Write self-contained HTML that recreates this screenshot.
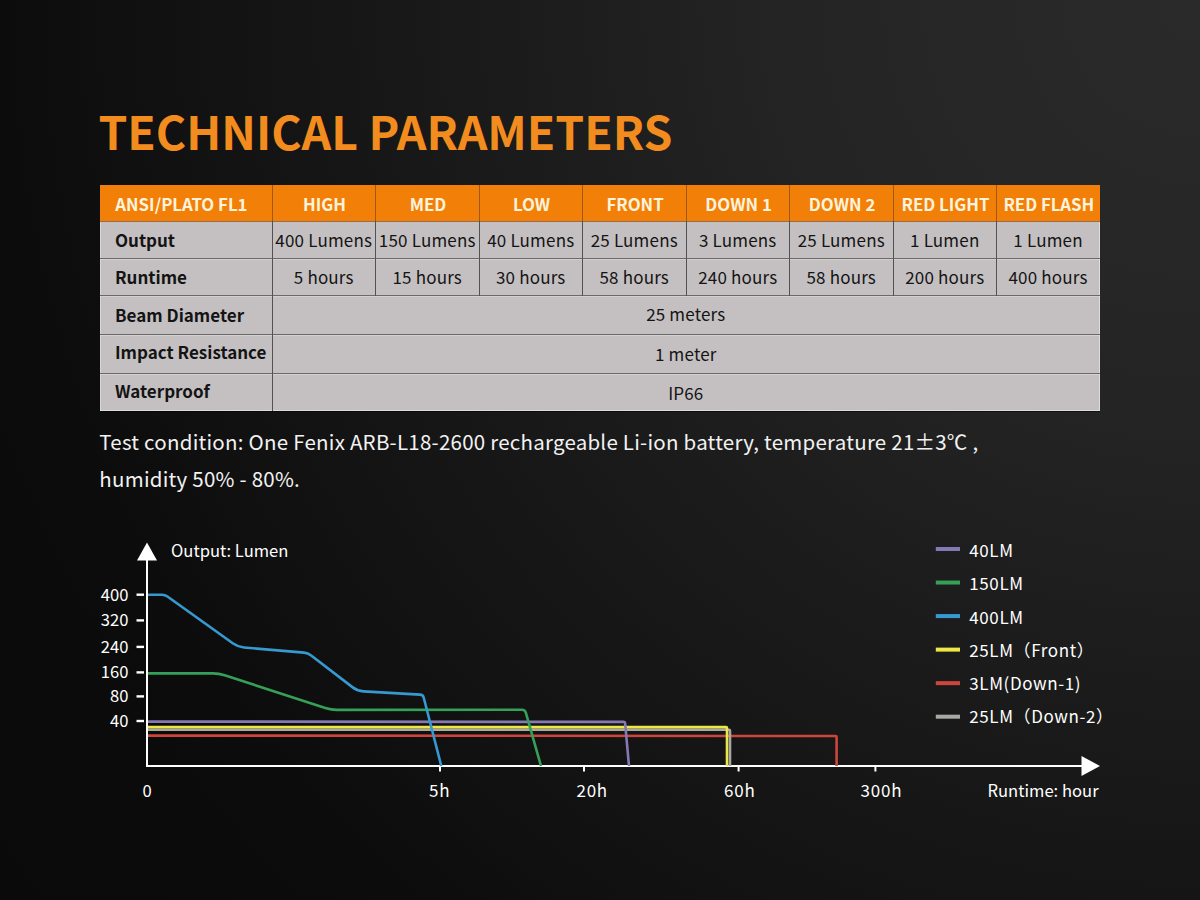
<!DOCTYPE html>
<html><head><meta charset="utf-8"><title>Technical Parameters</title>
<style>
*{margin:0;padding:0;box-sizing:border-box}
html,body{width:1200px;height:900px;overflow:hidden}
body{position:relative;font-family:"Noto Sans CJK SC","Liberation Sans",sans-serif;color:#fff;
background:radial-gradient(circle 1500px at 100% 0%,rgb(42,42,42) 0px,rgb(38,38,38) 300px,rgb(35,35,35) 450px,rgb(30,30,30) 600px,rgb(21,21,21) 900px,rgb(17,17,17) 1050px,rgb(13,13,13) 1165px,rgb(11,11,11) 1300px,rgb(10,10,10) 1500px);}
.t{position:absolute;white-space:nowrap;line-height:1}
h1{position:absolute;left:98.4px;top:107.3px;font-size:46.3px;font-weight:700;color:#f28c1e;line-height:1;white-space:nowrap}
#tbl{position:absolute;left:100px;top:185px;width:999.6px;height:226px;background:#c4c0c1;box-shadow:inset 1px 0 0 rgba(255,255,255,0.35),inset -1px -1px 0 rgba(255,255,255,0.45),0 1px 0 rgba(0,0,0,0.5)}
#tbl .hd{position:absolute;left:0;top:0;width:999.6px;height:36px;background:#f28008}
#tbl .c{position:absolute;text-align:center;white-space:nowrap;color:#141414;font-size:17px;line-height:1;letter-spacing:0.18px}
#tbl .h{color:#fff3dc;font-weight:700;font-size:16.8px;letter-spacing:0}
#tbl .l{font-weight:700;text-align:left;letter-spacing:0}
.vl{position:absolute;width:1px;background:#525252}
.vlh{position:absolute;width:1px;background:#a05814}
.htop{display:none}
.hb{background:#9a6a4a!important}
.hl{position:absolute;height:1px;left:0;width:999.6px;background:#6a6a6a}
.hlw{position:absolute;height:1px;left:0;width:999.6px;background:rgba(255,255,255,0.25)}
.note{position:absolute;left:99.3px;font-size:20.5px;letter-spacing:0.24px;color:#f2f2f2;line-height:1;white-space:nowrap}
svg{position:absolute;left:0;top:0}
svg text{font-family:"Noto Sans CJK SC","Liberation Sans",sans-serif;fill:#fff}
</style></head><body>
<h1>TECHNICAL PARAMETERS</h1>

<div id="tbl">
<div class="hd"></div>
<div class="c h l" style="left:15.3px;top:1.0px;width:156.7px;height:36.0px;line-height:36.0px">ANSI/PLATO FL1</div>
<div class="c h" style="left:172.8px;top:1.0px;width:103.5px;height:36.0px;line-height:36.0px">HIGH</div>
<div class="c h" style="left:276.3px;top:1.0px;width:103.5px;height:36.0px;line-height:36.0px">MED</div>
<div class="c h" style="left:379.8px;top:1.0px;width:103.5px;height:36.0px;line-height:36.0px">LOW</div>
<div class="c h" style="left:483.3px;top:1.0px;width:103.5px;height:36.0px;line-height:36.0px">FRONT</div>
<div class="c h" style="left:586.8px;top:1.0px;width:103.5px;height:36.0px;line-height:36.0px">DOWN 1</div>
<div class="c h" style="left:690.3px;top:1.0px;width:103.5px;height:36.0px;line-height:36.0px">DOWN 2</div>
<div class="c h" style="left:793.8px;top:1.0px;width:103.5px;height:36.0px;line-height:36.0px">RED LIGHT</div>
<div class="c h" style="left:897.3px;top:1.0px;width:103.1px;height:36.0px;line-height:36.0px">RED FLASH</div>
<div class="c l" style="left:15.0px;top:36.3px;width:157.0px;height:37.4px;line-height:37.4px">Output</div>
<div class="c v" style="left:172.0px;top:36.0px;width:103.5px;height:37.4px;line-height:37.4px">400 Lumens</div>
<div class="c v" style="left:275.5px;top:36.0px;width:103.5px;height:37.4px;line-height:37.4px">150 Lumens</div>
<div class="c v" style="left:379.0px;top:36.0px;width:103.5px;height:37.4px;line-height:37.4px">40 Lumens</div>
<div class="c v" style="left:482.5px;top:36.0px;width:103.5px;height:37.4px;line-height:37.4px">25 Lumens</div>
<div class="c v" style="left:586.0px;top:36.0px;width:103.5px;height:37.4px;line-height:37.4px">3 Lumens</div>
<div class="c v" style="left:689.5px;top:36.0px;width:103.5px;height:37.4px;line-height:37.4px">25 Lumens</div>
<div class="c v" style="left:793.0px;top:36.0px;width:103.5px;height:37.4px;line-height:37.4px">1 Lumen</div>
<div class="c v" style="left:896.5px;top:36.0px;width:103.1px;height:37.4px;line-height:37.4px">1 Lumen</div>
<div class="c l" style="left:15.0px;top:73.0px;width:157.0px;height:37.5px;line-height:37.5px">Runtime</div>
<div class="c v" style="left:172.0px;top:73.4px;width:103.5px;height:37.5px;line-height:37.5px">5 hours</div>
<div class="c v" style="left:275.5px;top:73.4px;width:103.5px;height:37.5px;line-height:37.5px">15 hours</div>
<div class="c v" style="left:379.0px;top:73.4px;width:103.5px;height:37.5px;line-height:37.5px">30 hours</div>
<div class="c v" style="left:482.5px;top:73.4px;width:103.5px;height:37.5px;line-height:37.5px">58 hours</div>
<div class="c v" style="left:586.0px;top:73.4px;width:103.5px;height:37.5px;line-height:37.5px">240 hours</div>
<div class="c v" style="left:689.5px;top:73.4px;width:103.5px;height:37.5px;line-height:37.5px">58 hours</div>
<div class="c v" style="left:793.0px;top:73.4px;width:103.5px;height:37.5px;line-height:37.5px">200 hours</div>
<div class="c v" style="left:896.5px;top:73.4px;width:103.1px;height:37.5px;line-height:37.5px">400 hours</div>
<div class="c l" style="left:15.0px;top:110.5px;width:157.0px;height:38.6px;line-height:38.6px">Beam Diameter</div>
<div class="c v" style="left:172.0px;top:109.9px;width:827.6px;height:38.6px;line-height:38.6px">25 meters</div>
<div class="c l" style="left:15.0px;top:148.2px;width:157.0px;height:38.5px;line-height:38.5px">Impact Resistance</div>
<div class="c v" style="left:172.0px;top:150.1px;width:827.6px;height:38.5px;line-height:38.5px">1 meter</div>
<div class="c l" style="left:15.0px;top:187.3px;width:157.0px;height:38.0px;line-height:38.0px">Waterproof</div>
<div class="c v" style="left:172.0px;top:188.6px;width:827.6px;height:38.0px;line-height:38.0px">IP66</div>
<div class="hl" style="top:72.9px"></div>
<div class="hlw" style="top:73.9px"></div>
<div class="hl" style="top:110.4px"></div>
<div class="hlw" style="top:111.4px"></div>
<div class="hl" style="top:149.0px"></div>
<div class="hlw" style="top:150.0px"></div>
<div class="hl" style="top:187.5px"></div>
<div class="hlw" style="top:188.5px"></div>
<div class="hl hb" style="top:35.5px"></div>
<div class="vl" style="left:171.5px;top:36px;height:190.0px"></div>
<div class="vlh" style="left:171.5px;top:0;height:36px"></div>
<div class="vl" style="left:275.0px;top:36px;height:74.9px"></div>
<div class="vlh" style="left:275.0px;top:0;height:36px"></div>
<div class="vl" style="left:378.5px;top:36px;height:74.9px"></div>
<div class="vlh" style="left:378.5px;top:0;height:36px"></div>
<div class="vl" style="left:482.0px;top:36px;height:74.9px"></div>
<div class="vlh" style="left:482.0px;top:0;height:36px"></div>
<div class="vl" style="left:585.5px;top:36px;height:74.9px"></div>
<div class="vlh" style="left:585.5px;top:0;height:36px"></div>
<div class="vl" style="left:689.0px;top:36px;height:74.9px"></div>
<div class="vlh" style="left:689.0px;top:0;height:36px"></div>
<div class="vl" style="left:792.5px;top:36px;height:74.9px"></div>
<div class="vlh" style="left:792.5px;top:0;height:36px"></div>
<div class="vl" style="left:896.0px;top:36px;height:74.9px"></div>
<div class="vlh" style="left:896.0px;top:0;height:36px"></div>
<div class="htop"></div>
</div>

<div class="note" style="top:430.7px">Test condition: One Fenix ARB-L18-2600 rechargeable Li-ion battery, temperature 21±3℃ ,</div>
<div class="note" style="top:467.8px">humidity 50% - 80%.</div>

<svg width="1200" height="900" viewBox="0 0 1200 900">
<line x1="147" y1="559" x2="147" y2="766" stroke="#ffffff" stroke-width="2"/>
<line x1="146" y1="766" x2="1083" y2="766" stroke="#ffffff" stroke-width="2"/>
<polygon points="147,542.5 137,560.5 157,560.5" fill="#ffffff"/>
<polygon points="1100,766 1081.5,756 1081.5,776" fill="#ffffff"/>
<line x1="136.5" y1="594.7" x2="144" y2="594.7" stroke="#ffffff" stroke-width="2.4"/>
<text x="128.5" y="600.7" text-anchor="end" font-size="16.6">400</text>
<line x1="136.5" y1="620.4" x2="144" y2="620.4" stroke="#ffffff" stroke-width="2.4"/>
<text x="128.5" y="626.4" text-anchor="end" font-size="16.6">320</text>
<line x1="136.5" y1="646.9" x2="144" y2="646.9" stroke="#ffffff" stroke-width="2.4"/>
<text x="128.5" y="652.9" text-anchor="end" font-size="16.6">240</text>
<line x1="136.5" y1="672.4" x2="144" y2="672.4" stroke="#ffffff" stroke-width="2.4"/>
<text x="128.5" y="678.4" text-anchor="end" font-size="16.6">160</text>
<line x1="136.5" y1="696.4" x2="144" y2="696.4" stroke="#ffffff" stroke-width="2.4"/>
<text x="128.5" y="702.4" text-anchor="end" font-size="16.6">80</text>
<line x1="136.5" y1="721" x2="144" y2="721" stroke="#ffffff" stroke-width="2.4"/>
<text x="128.5" y="727" text-anchor="end" font-size="16.6">40</text>
<line x1="440" y1="766" x2="440" y2="771.5" stroke="#ffffff" stroke-width="2"/>
<line x1="584" y1="766" x2="584" y2="771.5" stroke="#ffffff" stroke-width="2"/>
<line x1="738.6" y1="766" x2="738.6" y2="771.5" stroke="#ffffff" stroke-width="2"/>
<line x1="875.4" y1="766" x2="875.4" y2="771.5" stroke="#ffffff" stroke-width="2"/>
<text x="147.0" y="796.6" text-anchor="middle" font-size="16.6" letter-spacing="0">0</text>
<text x="439.79999999999995" y="796.6" text-anchor="middle" font-size="17" letter-spacing="0.8">5h</text>
<text x="592.1999999999999" y="796.6" text-anchor="middle" font-size="17" letter-spacing="0.8">20h</text>
<text x="739.8" y="796.6" text-anchor="middle" font-size="17" letter-spacing="0.8">60h</text>
<text x="881.4" y="796.6" text-anchor="middle" font-size="17" letter-spacing="0.8">300h</text>
<text x="171" y="556.5" font-size="16.6">Output: Lumen</text>
<text x="987.5" y="796.5" font-size="16.6">Runtime: hour</text>
<path d="M148.00,735.60 L835.60,736.00 Q836.60,736.00 836.60,737.00 L836.60,766.00" fill="none" stroke="#cc463c" stroke-width="2.6" stroke-linejoin="round"/>
<path d="M148.00,729.70 L729.00,729.70 Q730.00,729.70 730.00,730.70 L730.00,766.00" fill="none" stroke="#a9a9a4" stroke-width="2.6" stroke-linejoin="round"/>
<path d="M148.00,727.10 L726.00,727.10 Q727.00,727.10 727.00,728.10 L727.00,766.00" fill="none" stroke="#ece646" stroke-width="2.6" stroke-linejoin="round"/>
<path d="M148.00,721.60 L623.50,721.90 Q625.00,721.90 625.14,723.39 L629.00,766.00" fill="none" stroke="#8479b2" stroke-width="2.6" stroke-linejoin="round"/>
<path d="M148.00,673.40 L213.00,673.40 Q219.00,673.40 224.70,675.26 L325.30,708.04 Q331.00,709.90 337.00,709.89 L522.00,709.70 Q525.00,709.70 525.82,712.59 L541.00,766.00" fill="none" stroke="#35a058" stroke-width="2.6" stroke-linejoin="round"/>
<path d="M148.00,594.70 L162.00,594.70 Q165.00,594.70 167.44,596.45 L233.12,643.51 Q238.00,647.00 243.98,647.51 L304.01,652.66 Q308.00,653.00 311.17,655.44 L352.74,687.35 Q357.50,691.00 363.49,691.35 L420.01,694.63 Q423.00,694.80 423.75,697.71 L441.30,766.00" fill="none" stroke="#369ad0" stroke-width="2.6" stroke-linejoin="round"/>
<rect x="935.8" y="547.0" width="24.2" height="4" fill="#8479b2"/>
<text x="969.3" y="556.9" font-size="17" letter-spacing="0.6">40LM</text>
<rect x="935.8" y="580.54" width="24.2" height="4" fill="#35a058"/>
<text x="969.3" y="590.2" font-size="17" letter-spacing="0.6">150LM</text>
<rect x="935.8" y="614.08" width="24.2" height="4" fill="#369ad0"/>
<text x="969.3" y="623.5" font-size="17" letter-spacing="0.6">400LM</text>
<rect x="935.8" y="647.62" width="24.2" height="4" fill="#ece646"/>
<text x="969.3" y="656.8" font-size="17" letter-spacing="0.6">25LM（Front）</text>
<rect x="935.8" y="681.16" width="24.2" height="4" fill="#cc463c"/>
<text x="969.3" y="690.1" font-size="17" letter-spacing="0.6">3LM(Down-1)</text>
<rect x="935.8" y="714.7" width="24.2" height="4" fill="#a9a9a4"/>
<text x="969.3" y="723.4" font-size="17" letter-spacing="0.6">25LM（Down-2）</text>
</svg>
</body></html>
